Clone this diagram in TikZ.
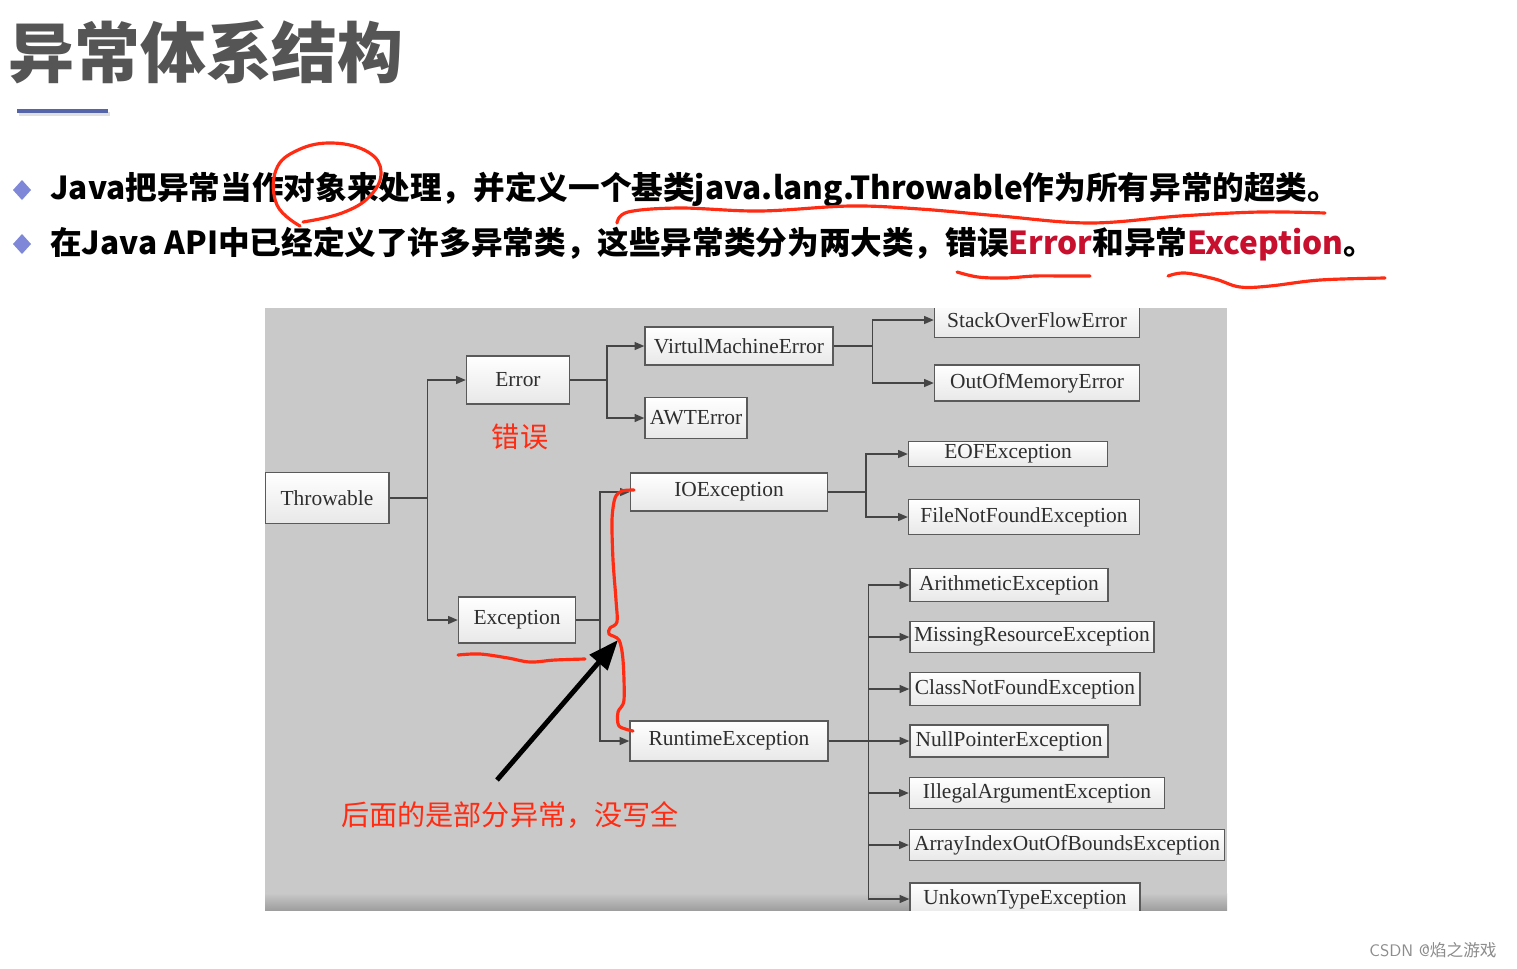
\documentclass[tikz,border=0pt]{standalone}
\usepackage{fontspec}
\setmainfont{Liberation Serif}
\newfontfamily\cjk{Noto Sans CJK SC}
\usetikzlibrary{arrows.meta}

\definecolor{panelgray}{HTML}{C9C9C9}
\definecolor{boxline}{HTML}{5A5A5A}
\definecolor{linkgray}{HTML}{454545}
\definecolor{inkred}{HTML}{FF2B12}
\definecolor{txtred}{HTML}{C8102E}
\definecolor{titlegray}{HTML}{555555}
\definecolor{bulletblue}{HTML}{7F88D8}
\definecolor{ruleblue}{HTML}{5664AA}

\tikzset{
  cls/.style={draw=boxline,line width=0.8pt,top color=white,bottom color=black!9,
    text=black!82,inner sep=0pt,font=\fontsize{12.2}{14}\selectfont},
  link/.style={draw=linkgray,line width=0.8pt,-{Triangle[length=5.5pt,width=4.5pt]}},
  ink/.style={draw=inkred,line width=1.8pt,line cap=round,line join=round},
  inktext/.style={text=inkred,inner sep=0pt,font=\cjk\fontsize{16}{19}\selectfont},
  bullet/.style={fill=bulletblue}
}

\begin{document}
\begin{tikzpicture}[x=0.02cm,y=-0.02cm]
\path[use as bounding box] (0,0) rectangle (1517,968);
\fill[white] (0,0) rectangle (1517,968);

% title and the two lines of text
\node[anchor=west,inner sep=0pt,text=titlegray,font=\cjk\bfseries\fontsize{37.5}{40}\selectfont] (title) at (8,52) {异常体系结构};
\draw[black!12,line width=2.2pt] (19,114) -- (110,114);
\draw[ruleblue,line width=1.8pt] (17,111) -- (108,111);

\fill[bullet] (22,180) -- (31,190) -- (22,200) -- (13,190) -- cycle;
\fill[bullet] (22,234) -- (31,244) -- (22,254) -- (13,244) -- cycle;
\node[anchor=west,inner sep=0pt,font=\cjk\bfseries\fontsize{18}{20}\selectfont] (line1) at (50,190)
  {Java把异常当作对象来处理，并定义一个基类java.lang.Throwable作为所有异常的超类。};
\node[anchor=west,inner sep=0pt,font=\cjk\bfseries\fontsize{18}{20}\selectfont] (line2) at (50,244)
  {在Java API中已经定义了许多异常类，这些异常类分为两大类，错误\textcolor{txtred}{Error}和异常\textcolor{txtred}{Exception}。};

% the class tree
\fill[panelgray] (265,308) rectangle (1227,910);
\shade[top color=panelgray,bottom color=black!38] (265,893) rectangle (1227,910);
\begin{scope}
\clip (265,308) rectangle (1227,910);
\node[cls,minimum width=2.48cm,minimum height=1.02cm] (thr) at (327,498) {Throwable};
\node[cls,minimum width=2.06cm,minimum height=0.96cm] (err) at (518,380) {Error};
\node[cls,minimum width=2.34cm,minimum height=0.92cm] (exc) at (517,620) {Exception};
\node[cls,minimum width=3.76cm,minimum height=0.76cm] (vme) at (739,346) {VirtulMachineError};
\node[cls,minimum width=2.04cm,minimum height=0.82cm] (awt) at (696,418) {AWTError};
\node[cls,minimum width=4.10cm,minimum height=0.70cm] (sof) at (1037,320) {StackOverFlowError};
\node[cls,minimum width=4.10cm,minimum height=0.72cm] (oom) at (1037,383) {OutOfMemoryError};
\node[cls,minimum width=3.94cm,minimum height=0.76cm] (ioe) at (729,492) {IOException};
\node[cls,minimum width=3.98cm,minimum height=0.50cm] (eof) at (1008,454) {EOFException};
\node[cls,minimum width=4.62cm,minimum height=0.70cm] (fnf) at (1024,517) {FileNotFoundException};
\node[cls,minimum width=3.96cm,minimum height=0.80cm] (rte) at (729,741) {RuntimeException};
\node[cls,minimum width=3.96cm,minimum height=0.66cm] (ari) at (1009,585) {ArithmeticException};
\node[cls,minimum width=4.88cm,minimum height=0.62cm] (mre) at (1032,637) {MissingResourceException};
\node[cls,minimum width=4.60cm,minimum height=0.66cm] (cnf) at (1025,689) {ClassNotFoundException};
\node[cls,minimum width=3.96cm,minimum height=0.64cm] (npe) at (1009,741) {NullPointerException};
\node[cls,minimum width=5.10cm,minimum height=0.62cm] (iae) at (1037,793) {IllegalArgumentException};
\node[cls,minimum width=6.30cm,minimum height=0.62cm] (aio) at (1067,845) {ArrayIndexOutOfBoundsException};
\node[cls,minimum width=4.60cm,minimum height=0.64cm] (ute) at (1025,899) {UnkownTypeException};

\draw[link] (thr.east) -- ++(38,0) |- (err.west);
\draw[link] (thr.east) -- ++(38,0) |- (exc.west);
\draw[link] (err.east) -- ++(37,0) |- (vme.west);
\draw[link] (err.east) -- ++(37,0) |- (awt.west);
\draw[link] (vme.east) -- ++(39,0) |- (sof.west);
\draw[link] (vme.east) -- ++(39,0) |- (oom.west);
\draw[link] (exc.east) -- ++(24,0) |- (ioe.west);
\draw[link] (exc.east) -- ++(24,0) |- (rte.west);
\draw[link] (ioe.east) -- ++(38,0) |- (eof.west);
\draw[link] (ioe.east) -- ++(38,0) |- (fnf.west);
\foreach \n in {ari,mre,cnf,npe,iae,aio,ute}
  \draw[link] (rte.east) -- ++(40,0) |- (\n.west);
\end{scope}

% hand-drawn notes
\node[inktext] (errnote) at (520,437) {错误};
\node[inktext] (note) at (510,815) {后面的是部分异常，没写全};
\coordinate (tail) at (497,780);
\coordinate (tip) at (618,640);
\draw[black,line width=2.8pt,-{Triangle[length=17pt,width=13pt]}] (tail) -- (tip);

\draw[ink] plot[smooth,tension=0.7] coordinates {(300,226) (277,205) (276,170) (298,150) (333,143) (368,152) (381,172) (370,196) (342,213) (303,222)};
\draw[ink] plot[smooth,tension=0.6] coordinates {(617,223) (628,212) (680,208) (760,211) (850,206) (920,209) (1000,216) (1090,223) (1180,216) (1260,212) (1325,213)};
\draw[ink] plot[smooth,tension=0.6] coordinates {(957,272) (978,277) (1005,278) (1035,276) (1065,276) (1090,276)};
\draw[ink] plot[smooth,tension=0.6] coordinates {(1168,276) (1185,273) (1215,279) (1240,287) (1270,286) (1320,280) (1385,278)};
\draw[ink] plot[smooth,tension=0.6] coordinates {(458,655) (480,654) (508,658) (530,662) (555,660) (585,659)};
\draw[ink] plot[smooth,tension=0.5] coordinates {(634,490) (622,491) (615,498) (612,520) (613,560) (616,600) (617,622) (610,628) (609,634) (619,640) (623,660) (624,700) (618,712) (619,726) (633,731)};

\node[text=black!45,inner sep=0pt,font=\fontsize{9.5}{11}\selectfont] (mark) at (1433,950) {\sffamily CSDN @\cjk 焰之游戏};
\end{tikzpicture}
\end{document}
